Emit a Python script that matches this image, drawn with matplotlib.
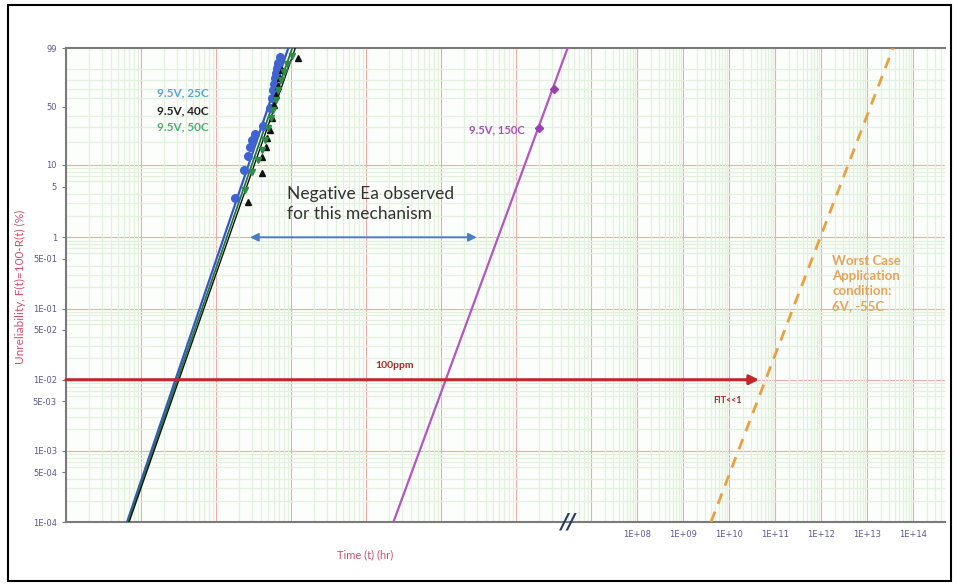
import numpy as np
import matplotlib
matplotlib.use("Agg")
from matplotlib import pyplot as plt
from matplotlib.patches import Rectangle

# failure times (hr) and unreliability (%) for the 9.5V stress cells
t_25c = [180, 238, 269, 286, 304, 334, 427, 529, 563, 580, 598, 617, 637, 656, 677, 720]
f_25c = [3.52, 8.5, 13.0, 17.0, 20.9, 24.8, 30.8, 48.3, 59.9, 69.4, 76.2, 82.5, 87.1, 91.0, 94.1, 96.8]
t_40c = [269, 414, 414, 468, 483, 529, 563, 598, 637, 677, 720, 765, 1252]
f_40c = [3.1, 7.74, 12.6, 17.0, 22.1, 27.7, 38.0, 51.7, 63.4, 74.0, 82.5, 89.6, 96.4]
t_50c = [245, 304, 366, 414, 454, 498, 546, 580, 637, 677, 742, 815, 893, 1041]
f_50c = [4.54, 7.98, 11.5, 15.6, 20.9, 29.2, 38.0, 46.1, 57.5, 69.4, 80.5, 88.0, 93.6, 97.1]
t_150c = [2.0e6, 3.18e6]
f_150c = [29.2, 70.5]

# Weibull fit lines, given by their times at 1E-04 % and 99 %
fit_f = [1e-4, 99]
fit_25c = [6.52, 920]
fit_40c = [6.94, 1141]
fit_50c = [6.73, 1041]
fit_150c = [23230, 4.88e6]
fit_app = [4.06e9, 3.68e13]   # 6V, -55C extrapolation

target_f = 1e-2        # 100ppm level (%)
target_t_end = 4.5e10
ea_arrow_t = [284, 3.0e5]
ea_arrow_f = 1.0

y_ticks = [99, 50, 10, 5, 1, 0.5, 0.1, 0.05, 0.01, 0.005, 0.001, 0.0005, 0.0001]
y_labels = ['99', '50', '10', '5', '1', '5E-01', '1E-01', '5E-02', '1E-02',
            '5E-03', '1E-03', '5E-04', '1E-04']
y_decades = [10, 1, 0.1, 0.01, 0.001]
x_decades = [10.0 ** k for k in range(0, 15)]
x_labels = ['' if k < 8 else '1E+%02d' % k for k in range(0, 15)]

T_MAX = 10 ** 14.696
SQUEEZE = 46 / 75.0   # decades past 1E+07 are drawn narrower


def time_fwd(t):
    lt = np.log10(np.clip(np.asarray(t, dtype=float), 1e-12, None))
    return np.where(lt <= 7, lt, 7 + (lt - 7) * SQUEEZE)


def time_inv(u):
    u = np.asarray(u, dtype=float)
    with np.errstate(over='ignore'):
        return np.where(u <= 7, 10.0 ** u, 10.0 ** (7 + (u - 7) / SQUEEZE))


def weib_fwd(p):
    q = np.clip(np.asarray(p, dtype=float) / 100.0, 1e-15, 1 - 1e-12)
    return np.log(-np.log(1 - q))


def weib_inv(w):
    with np.errstate(over='ignore'):
        return 100.0 * (1 - np.exp(-np.exp(np.asarray(w, dtype=float))))


fig = plt.figure(figsize=(9.57, 5.87), dpi=100)
ax = fig.add_axes([66 / 957, 1 - 522 / 587, 879 / 957, 474 / 587])
ax.set_xscale('function', functions=(time_fwd, time_inv))
ax.set_yscale('function', functions=(weib_fwd, weib_inv))
ax.set_facecolor('#fcfefb')

# grid: green minors, red decades
x_minor = [m * 10.0 ** k for k in range(0, 15) for m in range(2, 10)
           if m * 10.0 ** k < T_MAX]
y_minor = ([m * 10.0 ** k for k in range(-4, 1) for m in range(2, 10)]
           + [20, 30, 40, 60, 70, 80, 90])
ax.set_xticks(x_decades)
ax.set_xticklabels(x_labels)
ax.set_xticks(x_minor, minor=True)
ax.set_yticks(y_ticks)
ax.set_yticklabels(y_labels)
ax.set_yticks(y_minor, minor=True)
ax.set_xlim(1, T_MAX)
ax.set_ylim(1e-4, 99)
ax.grid(True, which='minor', color='#e2f0de', lw=0.9)
for xv in x_decades[1:]:
    ax.axvline(xv, color='#f0aaaa', lw=0.8, zorder=1)
for yv in y_decades:
    ax.axhline(yv, color='#f0aaaa', lw=0.8, zorder=1)

ax.tick_params(which='minor', length=0)
ax.tick_params(axis='x', which='major', length=0, labelsize=6, colors='#5a5a96', pad=6)
ax.tick_params(axis='y', which='major', length=3, labelsize=6, colors='#5a5a96',
               color='#777777')
for s in ['left', 'bottom', 'top']:
    ax.spines[s].set_color('#7a7a7a')
    ax.spines[s].set_linewidth(1.5)
ax.spines['right'].set_visible(False)

# fit lines
ax.plot(fit_25c, fit_f, color='#3a55c8', lw=1.6, zorder=3)
ax.plot(fit_50c, fit_f, color='#1f7a3a', lw=1.3, zorder=3)
ax.plot(fit_40c, fit_f, color='#111111', lw=1.0, zorder=3)
ax.plot(fit_150c, fit_f, color='#b455c4', lw=1.6, zorder=3)
ax.plot(fit_app, fit_f, color='#e8a040', lw=2.0, ls=(0, (4, 3)), zorder=3)

# data points
ax.plot(t_25c, f_25c, 'o', color='#3f63d0', ms=5.5, zorder=4)
ax.plot(t_40c, f_40c, '^', color='#111111', ms=5, zorder=4)
ax.plot(t_50c, f_50c, 'v', color='#2e8b45', ms=5, zorder=4)
ax.plot(t_150c, f_150c, 'D', color='#9a3fae', ms=4.5, zorder=4)

# 100ppm arrow and activation-energy span
ax.annotate('', xy=(target_t_end, target_f), xytext=(1, target_f),
            arrowprops=dict(arrowstyle='-|>', color='#c0282d', lw=2.2,
                            mutation_scale=14, shrinkA=0, shrinkB=0), zorder=5)
ax.annotate('', xy=(ea_arrow_t[1], ea_arrow_f), xytext=(ea_arrow_t[0], ea_arrow_f),
            arrowprops=dict(arrowstyle='<|-|>', color='#4a7ec4', lw=1.4,
                            mutation_scale=12, shrinkA=0, shrinkB=0), zorder=5)

font = ['Lato', 'DejaVu Sans']
ax.text(0.1035, 0.905, '9.5V, 25C', transform=ax.transAxes, color='#5aa6c8',
        fontsize=8.5, fontweight='bold', family=font, va='center')
ax.text(0.1035, 0.868, '9.5V, 40C', transform=ax.transAxes, color='#222222',
        fontsize=8.5, fontweight='bold', family=font, va='center')
ax.text(0.1035, 0.833, '9.5V, 50C', transform=ax.transAxes, color='#4caf78',
        fontsize=8.5, fontweight='bold', family=font, va='center')
ax.text(0.522, 0.827, '9.5V, 150C', transform=ax.transAxes, color='#a650b8',
        fontsize=8, fontweight='bold', family=font, va='center', ha='right')
ax.text(0.2514, 0.671, 'Negative Ea observed\nfor this mechanism',
        transform=ax.transAxes, color='#333333', fontsize=12.5, family=font,
        va='center', linespacing=1.25)
ax.text(0.3515, 0.331, '100ppm', transform=ax.transAxes, color='#a52a2a',
        fontsize=7.5, fontweight='bold', family=font, va='center')
ax.text(0.736, 0.257, 'FIT<<1', transform=ax.transAxes, color='#a52a2a',
        fontsize=6.5, fontweight='bold', family=font, va='center')
ax.text(0.872, 0.503, 'Worst Case\nApplication\ncondition:\n6V, -55C',
        transform=ax.transAxes, color='#e5a45c', fontsize=9.5, fontweight='bold',
        family=font, va='center', linespacing=1.3)

# axis break mark
ax.text(0.571, 0.0, '//', transform=ax.transAxes, color='#2a3a6a', fontsize=15,
        fontweight='bold', style='italic', ha='center', va='center', zorder=6)

fig.text(20 / 957, 1 - 287 / 587, 'Unreliability, F(t)=100-R(t) (%)', rotation=90,
         color='#d0506a', fontsize=8.5, family=font, ha='center', va='center')
fig.text(365 / 957, 1 - 555 / 587, 'Time (t) (hr)', color='#d0506a',
         fontsize=8, family=font, ha='center', va='center')

fig.add_artist(Rectangle((8 / 957, 1 - 581 / 587), 943 / 957, 576 / 587,
                         transform=fig.transFigure, fill=False, lw=1.5, ec='black'))

fig.savefig('out.png', dpi=100)
